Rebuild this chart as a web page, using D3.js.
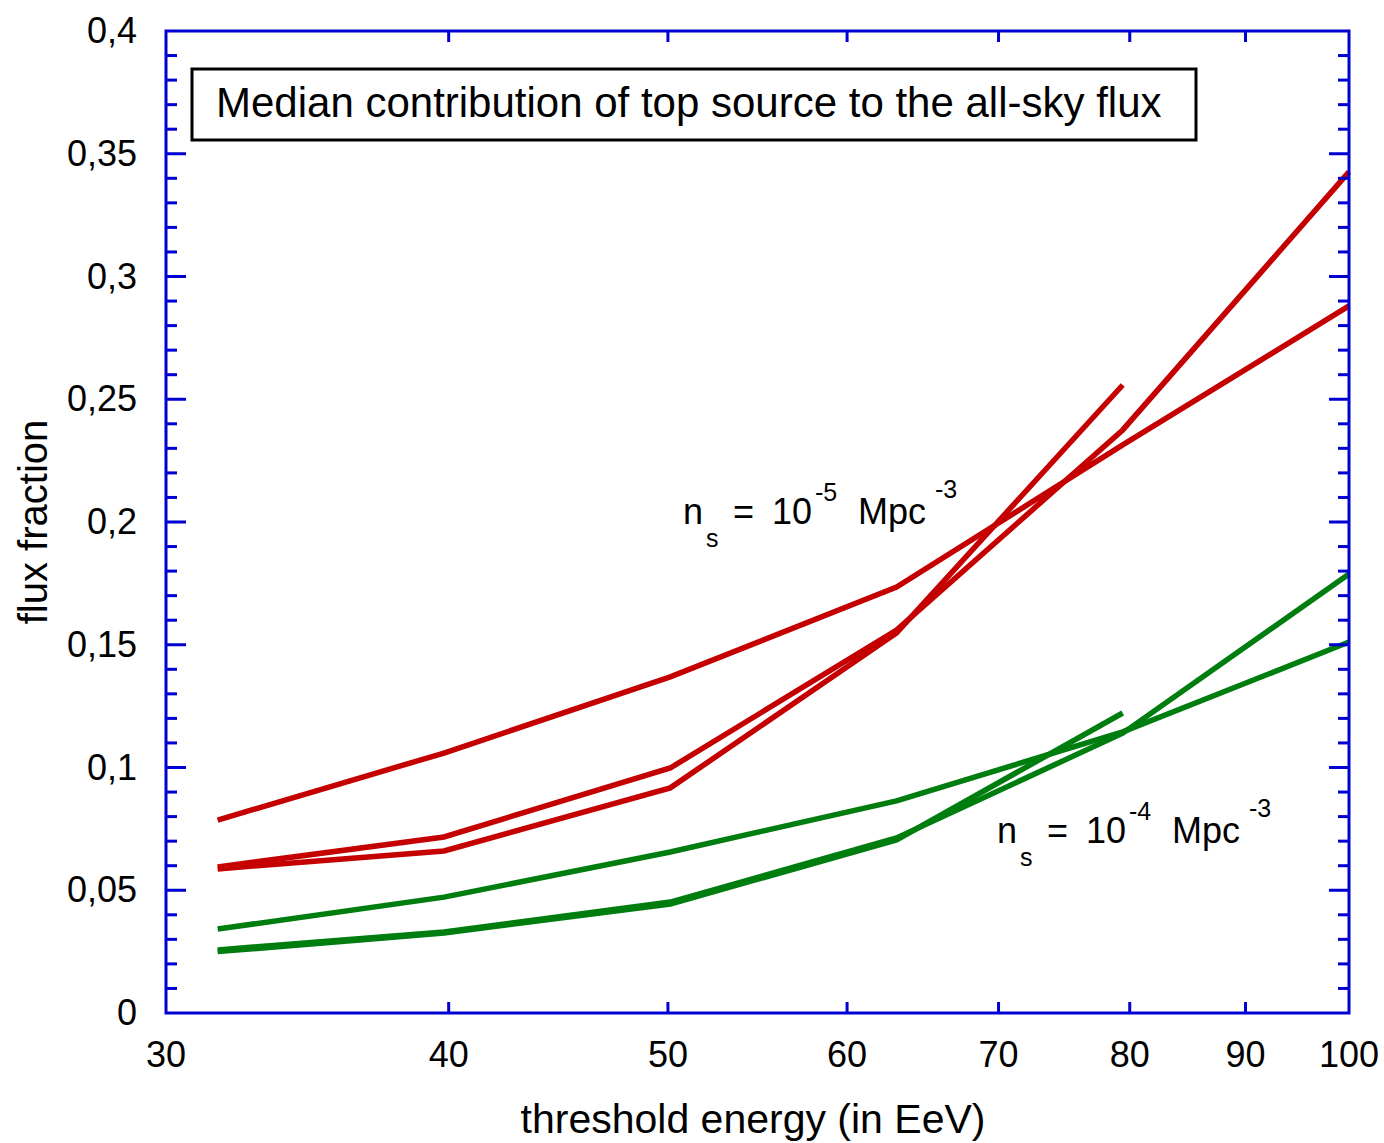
<!DOCTYPE html>
<html>
<head>
<meta charset="utf-8">
<script src="https://cdn.jsdelivr.net/npm/d3@7"></script>
<style>
  body { margin: 0; background: #fff; }
  svg text { font-family: "Liberation Sans", Arial, Helvetica, sans-serif; fill: #000; }
</style>
</head>
<body>
<div class="draw"></div>
<script>
// threshold energies (EeV), log10 E = 1.5 ... 2.0
var energies = [31.62, 39.81, 50.12, 63.1, 79.43, 100];

// flux fraction of the top source, n_s = 1e-5 Mpc^-3
var redShallow = [0.0786, 0.1059, 0.1369, 0.1735, 0.2314, 0.288];
var redMid = [0.0595, 0.0717, 0.0998, 0.156, 0.2375, 0.3426];
var redShort = [0.0587, 0.066, 0.0917, 0.1548, 0.2558];

// n_s = 1e-4 Mpc^-3
var greenShallow = [0.0342, 0.0472, 0.0656, 0.0864, 0.1145, 0.1511];
var greenMid = [0.0257, 0.033, 0.0452, 0.0713, 0.114, 0.1788];
var greenShort = [0.0250, 0.0326, 0.0444, 0.0705, 0.1222];

var xTicks = [30, 40, 50, 60, 70, 80, 90, 100];
var yTicks = [0, 0.05, 0.1, 0.15, 0.2, 0.25, 0.3, 0.35, 0.4];

var title = 'Median contribution of top source to the all-sky flux';
var xTitle = 'threshold energy (in EeV)';
var yTitle = 'flux fraction';

var size = { w: 1384, h: 1143 };
var box = { l: 166, r: 1349, t: 31, b: 1013 };
var axisColor = '#0000d2';
var red = '#c40000';
var green = '#007d0f';

var x = d3.scaleLog().domain([30, 100]).range([box.l, box.r]);
var y = d3.scaleLinear().domain([0, 0.4]).range([box.b, box.t]);

var svg = d3.select('.draw').append('svg')
  .attr('width', size.w)
  .attr('height', size.h);

// series
var series = [
  { v: redShallow, c: red },
  { v: redMid, c: red },
  { v: redShort, c: red },
  { v: greenShallow, c: green },
  { v: greenMid, c: green },
  { v: greenShort, c: green }
];
var line = d3.line()
  .x(function(d, i) { return x(energies[i]); })
  .y(function(d) { return y(d); });

svg.append('g').selectAll('path').data(series).enter().append('path')
  .attr('d', function(s) { return line(s.v); })
  .attr('fill', 'none')
  .attr('stroke', function(s) { return s.c; })
  .attr('stroke-width', 5.5)
  .attr('stroke-linejoin', 'miter')
  .attr('stroke-linecap', 'butt');

// axes: y ticks inward on both sides
var minor = d3.range(0, 0.4001, 0.01);
var g = svg.append('g').attr('stroke', axisColor).attr('stroke-width', 3);
minor.forEach(function(v, i) {
  var len = (i % 5 === 0) ? 20 : 11;
  if (i === 0 || i === 40) return;
  g.append('line').attr('x1', box.l).attr('x2', box.l + len)
    .attr('y1', y(v)).attr('y2', y(v));
  g.append('line').attr('x1', box.r).attr('x2', box.r - len)
    .attr('y1', y(v)).attr('y2', y(v));
});
xTicks.slice(1, -1).forEach(function(v) {
  g.append('line').attr('x1', x(v)).attr('x2', x(v))
    .attr('y1', box.b).attr('y2', box.b - 11);
  g.append('line').attr('x1', x(v)).attr('x2', x(v))
    .attr('y1', box.t).attr('y2', box.t + 11);
});
g.append('rect')
  .attr('x', box.l).attr('y', box.t)
  .attr('width', box.r - box.l).attr('height', box.b - box.t)
  .attr('fill', 'none');

// tick labels
svg.append('g').selectAll('text').data(yTicks).enter().append('text')
  .attr('x', 137)
  .attr('y', function(d) { return y(d) + 12; })
  .attr('text-anchor', 'end')
  .style('font-size', '36px')
  .text(function(d) { return String(d).replace('.', ','); });

svg.append('g').selectAll('text').data(xTicks).enter().append('text')
  .attr('x', function(d) { return x(d); })
  .attr('y', 1067)
  .attr('text-anchor', 'middle')
  .style('font-size', '36px')
  .text(function(d) { return d; });

// axis titles
svg.append('text')
  .attr('x', 753)
  .attr('y', 1133)
  .attr('text-anchor', 'middle')
  .style('font-size', '41px')
  .text(xTitle);

svg.append('text')
  .attr('transform', 'translate(47,' + 522 + ') rotate(-90)')
  .attr('text-anchor', 'middle')
  .style('font-size', '40px')
  .text(yTitle);

// title box
svg.append('rect')
  .attr('x', 192).attr('y', 69)
  .attr('width', 1004).attr('height', 71)
  .attr('fill', '#fff')
  .attr('stroke', '#000')
  .attr('stroke-width', 3);
svg.append('text')
  .attr('x', 216).attr('y', 117)
  .style('font-size', '42px')
  .text(title);

// density labels, pieces placed from the left edge of "n"
function densityLabel(px, py, exp) {
  var t = svg.append('g').attr('transform', 'translate(' + px + ',' + py + ')');
  var parts = [
    { s: 'n', dx: 0, dy: 0, f: 36 },
    { s: 's', dx: 23, dy: 23, f: 25 },
    { s: '=', dx: 50, dy: 0, f: 36 },
    { s: '10', dx: 89, dy: 0, f: 36 },
    { s: exp, dx: 132, dy: -23, f: 25 },
    { s: 'Mpc', dx: 175, dy: 0, f: 36 },
    { s: '-3', dx: 252, dy: -26, f: 25 }
  ];
  t.selectAll('text').data(parts).enter().append('text')
    .attr('x', function(d) { return d.dx; })
    .attr('y', function(d) { return d.dy; })
    .style('font-size', function(d) { return d.f + 'px'; })
    .text(function(d) { return d.s; });
}
densityLabel(683, 524, '-5');
densityLabel(997, 843, '-4');
</script>
</body>
</html>
